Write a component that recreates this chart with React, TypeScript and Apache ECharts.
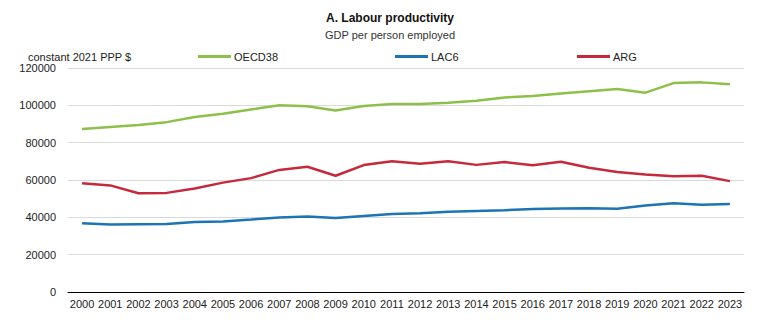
import React, { useEffect, useRef } from "react";
import * as echarts from "echarts";

const years = ["2000","2001","2002","2003","2004","2005","2006","2007","2008","2009","2010","2011","2012","2013","2014","2015","2016","2017","2018","2019","2020","2021","2022","2023"];
const oecd38 = [87300,88400,89500,91000,93800,95500,97800,100000,99500,97200,99600,100700,100700,101400,102500,104200,105000,106300,107500,108700,106800,111900,112300,111300];
const lac6 = [36800,36200,36300,36400,37500,37800,38800,39900,40500,39600,40700,41800,42200,43000,43400,43800,44500,44700,44900,44600,46300,47500,46700,47100];
const arg = [58200,57100,52900,53100,55400,58600,61000,65400,67100,62300,68000,70000,68700,70000,68100,69600,67900,69800,66600,64300,62900,62000,62300,59400];
const yTicks = { min: 0, max: 120000, interval: 20000 };

const FONT = "'Liberation Sans Narrow', 'Arial Narrow', 'Liberation Sans', Arial, sans-serif";
const GREEN = "#8cc04a";
const BLUE = "#1c74b5";
const RED = "#c52a3c";

export default function App() {
  const ref = useRef<HTMLDivElement>(null);
  useEffect(() => {
    document.body.style.margin = "0";
    const chart = echarts.init(ref.current!, undefined, { renderer: "svg" });
    const legendBase = {
      top: 46,
      icon: "rect",
      itemWidth: 33,
      itemHeight: 3,
      itemGap: 3,
      textStyle: { fontFamily: FONT, fontSize: 11, color: "#222", padding: [0, 0, 0, -2] },
      selectedMode: false,
    };
    chart.setOption({
      animation: false,
      textStyle: { fontFamily: FONT },
      title: [
        {
          text: "A. Labour productivity",
          left: "center",
          top: 7,
          textStyle: { fontFamily: FONT, fontSize: 12, fontWeight: "bold", color: "#111" },
        },
        {
          text: "GDP per person employed",
          left: "center",
          top: 24,
          textStyle: { fontFamily: FONT, fontSize: 11, fontWeight: "normal", color: "#333" },
        },
        {
          text: "constant 2021 PPP $",
          left: 23,
          top: 46,
          textStyle: { fontFamily: FONT, fontSize: 11, fontWeight: "normal", color: "#222" },
        },
      ],
      legend: [
        { ...legendBase, left: 193, data: ["OECD38"] },
        { ...legendBase, left: 390, data: ["LAC6"] },
        { ...legendBase, left: 572, data: ["ARG"] },
      ],
      grid: { left: 68, right: 36, top: 68, bottom: 30, containLabel: false },
      xAxis: {
        type: "category",
        data: years,
        boundaryGap: true,
        axisLine: { lineStyle: { color: "#000", width: 1 } },
        axisTick: { inside: true, length: 4, lineStyle: { color: "#000" } },
        axisLabel: { fontFamily: FONT, fontSize: 11, color: "#222", margin: 6, interval: 0 },
      },
      yAxis: {
        type: "value",
        min: yTicks.min,
        max: yTicks.max,
        interval: yTicks.interval,
        axisLine: { show: false },
        axisTick: { show: false },
        axisLabel: { fontFamily: FONT, fontSize: 11, color: "#222", margin: 12, formatter: (v: number) => String(v) },
        splitLine: { lineStyle: { color: "#d9d9d9", width: 1 } },
      },
      series: [
        { name: "OECD38", type: "line", data: oecd38, showSymbol: false, symbol: "none", lineStyle: { color: GREEN, width: 2.5 }, itemStyle: { color: GREEN } },
        { name: "LAC6", type: "line", data: lac6, showSymbol: false, symbol: "none", lineStyle: { color: BLUE, width: 2.5 }, itemStyle: { color: BLUE } },
        { name: "ARG", type: "line", data: arg, showSymbol: false, symbol: "none", lineStyle: { color: RED, width: 2.5 }, itemStyle: { color: RED } },
      ],
    });
    return () => chart.dispose();
  }, []);
  return <div ref={ref} style={{ width: 780, height: 322 }} />;
}
